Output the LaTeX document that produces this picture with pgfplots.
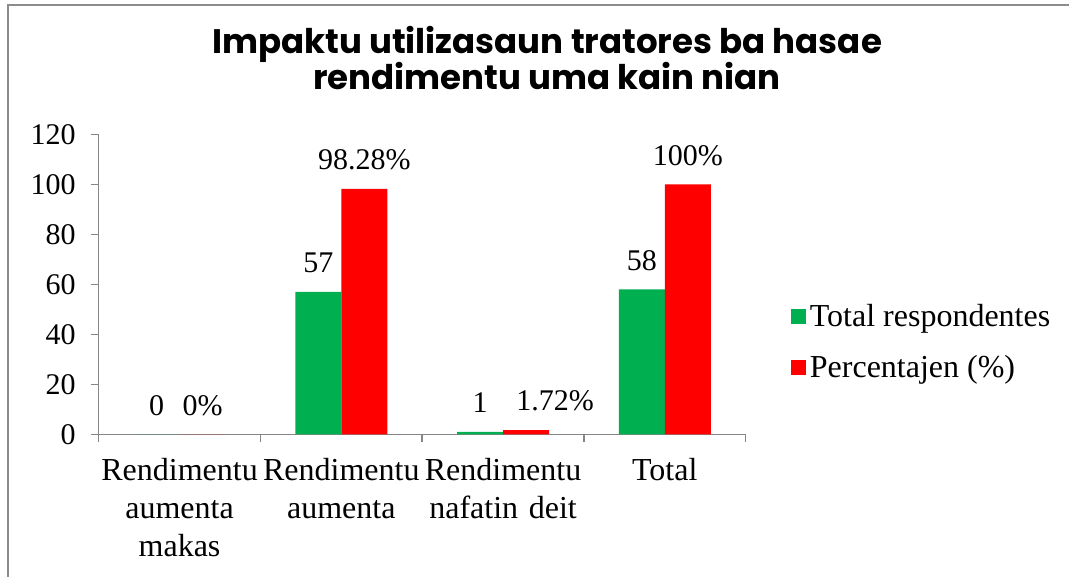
\documentclass[border=0pt]{standalone}
\usepackage{fontspec}
\setmainfont{Liberation Serif}
\newfontfamily\titlefont{Poppins}
\usepackage{pgfplots}
\pgfplotsset{compat=1.18}

\definecolor{tgreen}{HTML}{00B050}
\definecolor{tred}{HTML}{FF0000}
\definecolor{axisgray}{HTML}{868686}
\definecolor{framegray}{HTML}{8C8C8C}

\begin{document}
\begin{tikzpicture}[x=1pt,y=1pt]
\useasboundingbox (0,0) rectangle (534.5,288.5);
% chart frame (only left and top edges are visible in the crop)
\draw[framegray, line width=1pt] (4,0) -- (4,286) -- (540,286);
\node[anchor=base, font=\titlefont\bfseries\fontsize{17}{20}\selectfont] at (273.5,261.5) {Impaktu utilizasaun tratores ba hasae};
\node[anchor=base, font=\titlefont\bfseries\fontsize{17}{20}\selectfont] at (273.5,243.5) {rendimentu uma kain nian};

\begin{axis}[
    at={(61,57)}, anchor=south west,
    scale only axis,
    width=323.5pt, height=150pt,
    xmin=-0.5, xmax=3.5, ymin=0, ymax=120,
    ytick={0,20,...,120},
    xtick={0,1,2,3},
    xticklabels={{Rendimentu\\aumenta\\makas},{Rendimentu\\aumenta},{Rendimentu\\nafatin deit},{Total}},
    minor xtick={-0.5,0.5,1.5,2.5,3.5},
    major x tick style={draw=none},
    minor x tick style={draw=axisgray, line width=0.75pt},
    major y tick style={draw=axisgray, line width=0.75pt},
    tick align=outside,
    major tick length=4pt, minor tick length=4pt,
    axis x line*=bottom, axis y line*=left,
    axis line style={draw=axisgray, line width=0.75pt, -},
    /pgf/number format/assume math mode=true,
    yticklabel style={font=\fontsize{15}{18}\selectfont, xshift=-4pt},
    xticklabel style={font=\fontsize{16}{19}\selectfont, align=center, text width=82pt, yshift=-4.5pt},
    ybar=0pt, bar width=23pt,
    clip=false,
    point meta=explicit symbolic,
    nodes near coords,
    every node near coord/.append style={font=\fontsize{15}{18}\selectfont, yshift=6pt},
    legend style={at={(1.06,0.307)}, anchor=west, draw=none, fill=none,
        font=\fontsize{16}{19}\selectfont, row sep=9pt},
    legend cell align=left,
    legend image code/.code={\fill[#1] (0pt,-3.75pt) rectangle (7.5pt,3.75pt);},
]
\addplot[fill=tgreen, draw=none] coordinates {(0,0) [0] (1,57) [57] (2,1) [1] (3,58) [58]};
\addplot[fill=tred, draw=none] coordinates {(0,0) [0\%] (1,98.28) [98.28\%] (2,1.72) [\hspace*{29pt}1.72\%] (3,100) [100\%]};
\legend{Total respondentes, Percentajen (\%)}
\end{axis}
\end{tikzpicture}
\end{document}
